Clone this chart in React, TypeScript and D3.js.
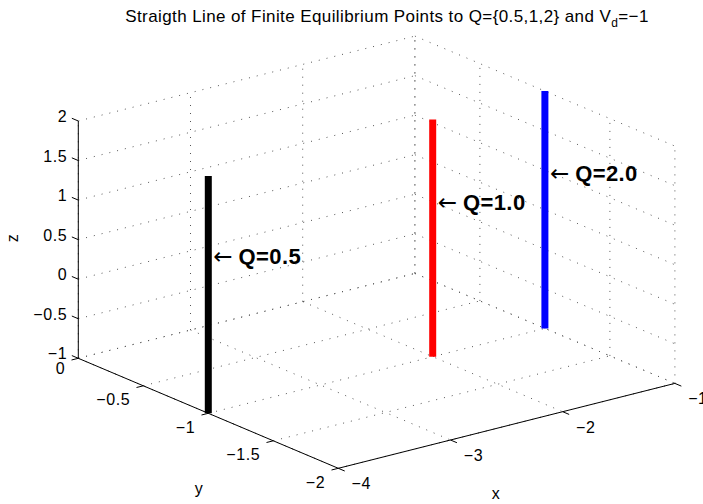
import React from 'react';
import * as d3 from 'd3';

// ---- data ----
const qLabels = ['Q=0.5', 'Q=1.0', 'Q=2.0'];
const lineX = [-4, -2, -1];
const lineY = [-1, -1, -1];
const lineZStart = [-1, -1, -1];
const lineZEnd = [2, 2, 2];
const labelZ = [0.99, 0.96, 0.96];
const lineColors = ['#000000', '#ff0000', '#0000ff'];

const xTicks = [-4, -3, -2, -1];
const yTicks = [0, -0.5, -1, -1.5, -2];
const zTicks = [-1, -0.5, 0, 0.5, 1, 1.5, 2];
const xDomain = [-4, -1];
const yDomain = [0, -2];
const zDomain = [-1, 2];

const W = 703;
const H = 504;
const FONT = '"Liberation Sans", Arial, Helvetica, sans-serif';

// projection: origin of (xmin, ymax, zmin) and screen vectors spanning each axis
const ORIGIN: [number, number] = [78.3, 358.3];
const XV: [number, number] = [336.6, -84.9];
const YV: [number, number] = [260, 110];
const ZV: [number, number] = [0, -237.3];

const xs = d3.scaleLinear().domain(xDomain).range([0, 1]);
const ys = d3.scaleLinear().domain(yDomain).range([0, 1]);
const zs = d3.scaleLinear().domain(zDomain).range([0, 1]);

function proj(x: number, y: number, z: number): [number, number] {
  const a = xs(x), b = ys(y), c = zs(z);
  return [
    ORIGIN[0] + a * XV[0] + b * YV[0] + c * ZV[0],
    ORIGIN[1] + a * XV[1] + b * YV[1] + c * ZV[1],
  ];
}

function unit(v: [number, number]): [number, number] {
  const l = Math.hypot(v[0], v[1]);
  return [v[0] / l, v[1] / l];
}

const fmt = (v: number) => (v < 0 ? '\u2212' + String(Math.abs(v)) : String(v));

const line = d3.line();

export default function App() {
  const [x0, x1] = xDomain;
  const [y0, y1] = yDomain;
  const [z0, z1] = zDomain;
  const grid: [number, number][][] = [];
  // back wall y = ymax (y0)
  xTicks.forEach((x) => grid.push([proj(x, y0, z0), proj(x, y0, z1)]));
  zTicks.forEach((z) => grid.push([proj(x0, y0, z), proj(x1, y0, z)]));
  // back wall x = xmax
  yTicks.forEach((y) => grid.push([proj(x1, y, z0), proj(x1, y, z1)]));
  zTicks.forEach((z) => grid.push([proj(x1, y0, z), proj(x1, y1, z)]));
  // floor z = zmin
  xTicks.forEach((x) => grid.push([proj(x, y0, z0), proj(x, y1, z0)]));
  yTicks.forEach((y) => grid.push([proj(x0, y, z0), proj(x1, y, z0)]));

  const TL = 7;
  const zDir = unit([-YV[0], -YV[1]]);
  const yDir = unit([-XV[0], -XV[1]]);
  const xDir = unit([YV[0], YV[1]]);

  const tickStyle = { fontFamily: FONT, fontSize: 16, letterSpacing: 0.6, fill: '#000' } as const;

  return (
    <svg width={W} height={H} style={{ position: 'absolute', left: 0, top: 0, background: '#fff' }}>
      <rect x={0} y={0} width={W} height={H} fill="#fff" />
      {/* grid */}
      <g stroke="#555" strokeWidth={1} strokeDasharray="1,7" fill="none">
        {grid.map((g, i) => (
          <path key={i} d={line(g) || ''} />
        ))}
      </g>
      {/* axes */}
      <g stroke="#000" strokeWidth={1} fill="none">
        <path d={line([proj(x0, y0, z0), proj(x0, y0, z1)]) || ''} />
        <path d={line([proj(x0, y0, z0), proj(x0, y1, z0)]) || ''} />
        <path d={line([proj(x0, y1, z0), proj(x1, y1, z0)]) || ''} />
        {zTicks.map((z) => {
          const p = proj(x0, y0, z);
          return <path key={'zt' + z} d={line([p, [p[0] + zDir[0] * TL, p[1] + zDir[1] * TL]]) || ''} />;
        })}
        {yTicks.map((y) => {
          const p = proj(x0, y, z0);
          return <path key={'yt' + y} d={line([p, [p[0] + yDir[0] * TL, p[1] + yDir[1] * TL]]) || ''} />;
        })}
        {xTicks.map((x) => {
          const p = proj(x, y1, z0);
          return <path key={'xt' + x} d={line([p, [p[0] + xDir[0] * TL, p[1] + xDir[1] * TL]]) || ''} />;
        })}
      </g>
      {/* tick labels */}
      {zTicks.map((z) => {
        const p = proj(x0, y0, z);
        return (
          <text key={'zl' + z} x={p[0] - 11} y={p[1] - 4.5} textAnchor="end" dominantBaseline="central" {...tickStyle}>
            {fmt(z)}
          </text>
        );
      })}
      {yTicks.map((y) => {
        const p = proj(x0, y, z0);
        return (
          <text key={'yl' + y} x={p[0] - 13} y={p[1] + (y === 0 ? 10 : 14)} textAnchor="end" dominantBaseline="central" {...tickStyle}>
            {fmt(y)}
          </text>
        );
      })}
      {xTicks.map((x) => {
        const p = proj(x, y1, z0);
        return (
          <text key={'xl' + x} x={p[0] + 23} y={p[1] + 15.5} textAnchor="middle" dominantBaseline="central" {...tickStyle}>
            {fmt(x)}
          </text>
        );
      })}
      {/* axis labels */}
      <text x={199} y={488} textAnchor="middle" dominantBaseline="central" {...tickStyle}>y</text>
      <text x={496} y={493} textAnchor="middle" dominantBaseline="central" {...tickStyle}>x</text>
      <text x={12.5} y={238} textAnchor="middle" dominantBaseline="central" transform="rotate(-90 12.5 238)" {...tickStyle}>z</text>
      {/* vertical lines */}
      {lineX.map((x, i) => (
        <path
          key={'ln' + i}
          d={line([proj(x, lineY[i], lineZStart[i]), proj(x, lineY[i], lineZEnd[i])]) || ''}
          stroke={lineColors[i]}
          strokeWidth={7}
          fill="none"
        />
      ))}
      {/* labels */}
      {lineX.map((x, i) => {
        const p = proj(x, lineY[i], labelZ[i]);
        return (
          <text key={'lb' + i} x={p[0] + 5} y={p[1]} dominantBaseline="central" fill="#000">
            <tspan fontFamily='"DejaVu Sans", sans-serif' fontSize={23} fontWeight="normal">←</tspan>
            <tspan dx={6} fontFamily={FONT} fontSize={22} fontWeight="bold" letterSpacing={0.4}>{qLabels[i]}</tspan>
          </text>
        );
      })}
      {/* title */}
      <text x={387} y={22} textAnchor="middle" fontFamily={FONT} fontSize={17} letterSpacing={0.4} fill="#000">
        Straigth Line of Finite Equilibrium Points to Q={'{'}0.5,1,2{'}'} and V
        <tspan dy={5} fontSize={12}>d</tspan>
        <tspan dy={-5}>=−1</tspan>
      </text>
    </svg>
  );
}
